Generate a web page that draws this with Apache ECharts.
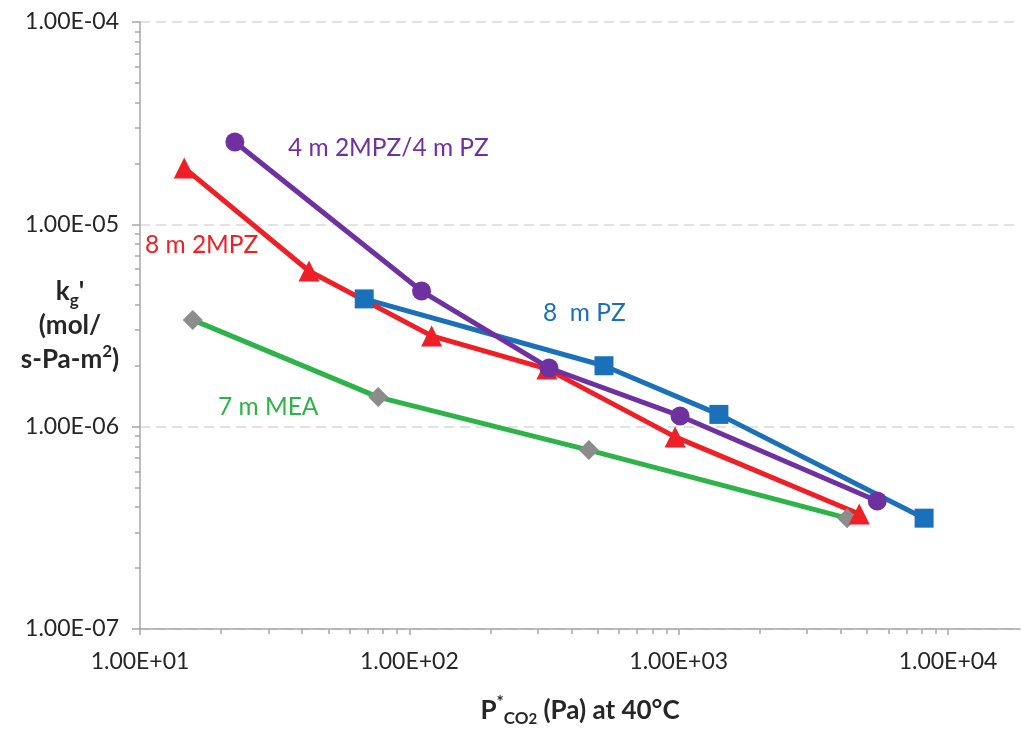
<!DOCTYPE html>
<html>
<head>
<meta charset="utf-8">
<script src="https://cdn.jsdelivr.net/npm/echarts@6/dist/echarts.min.js"></script>
<style>
  html, body { margin: 0; padding: 0; background: #fff; }
  #chart { width: 1023px; height: 732px; }
</style>
</head>
<body>
<div id="chart"></div>
<script>
// data (log-log)
const pz8X = [68, 528, 1410, 8150];
const pz8Y = [4.28e-6, 2.0e-6, 1.15e-6, 3.53e-7];

const mpz8X = [14.6, 42.4, 121, 324, 970, 4680];
const mpz8Y = [1.9e-5, 5.88e-6, 2.81e-6, 1.93e-6, 8.9e-7, 3.7e-7];

const blendX = [22.5, 111, 330, 1012, 5460];
const blendY = [2.55e-5, 4.68e-6, 1.95e-6, 1.13e-6, 4.29e-7];

const mea7X = [15.7, 76.6, 464, 4220];
const mea7Y = [3.37e-6, 1.4e-6, 7.66e-7, 3.53e-7];

const xMajor = [10, 100, 1000, 10000];
const yMajor = [1e-7, 1e-6, 1e-5, 1e-4];

// log minor ticks at 2..9 of each decade
const minorOf = (majors, max) => {
  const out = [];
  majors.forEach(m => { for (let k = 2; k <= 9; k++) if (m * k <= max) out.push(m * k); });
  return out;
};
const xMinor = minorOf(xMajor, 18500);
const yMinor = minorOf(yMajor.slice(0, 3), 1e-4);

const FONT = 'Lato, "Open Sans", sans-serif';
const TXT = '#262626';
const AXIS = '#a6a6a6';

const expFmt = v => {
  const e = Math.round(Math.log10(v));
  const s = e < 0 ? '-' : '+';
  return '1.00E' + s + String(Math.abs(e)).padStart(2, '0');
};

const pairs = (xs, ys) => xs.map((x, i) => [x, ys[i]]);

const chart = echarts.init(document.getElementById('chart'));

const baseX = { type: 'log', logBase: 10, min: 10, max: 18500, gridIndex: 0, position: 'bottom' };
const baseY = { type: 'log', logBase: 10, min: 1e-7, max: 1e-4, gridIndex: 0, position: 'left' };

const option = {
  animation: false,
  backgroundColor: '#fff',
  textStyle: { fontFamily: FONT },
  grid: { left: 140, top: 22, right: 3, bottom: 103, containLabel: false, outerBoundsMode: 'none' },
  xAxis: [
    {
      ...baseX,
      name: '{b|P}{sup|*}{sub|CO}{sub2|2}{b| (Pa) at 40°C}',
      nameLocation: 'middle',
      nameGap: 65,
      nameTextStyle: {
        rich: {
          b: { fontFamily: FONT, fontWeight: 'bold', fontSize: 26, color: TXT, lineHeight: 32 },
          sup: { fontFamily: FONT, fontWeight: 'bold', fontSize: 17, color: TXT, verticalAlign: 'top', lineHeight: 32 },
          sub: { fontFamily: FONT, fontWeight: 'bold', fontSize: 17, color: TXT, verticalAlign: 'bottom', padding: [12, 0, 0, 0] },
          sub2: { fontFamily: FONT, fontWeight: 'bold', fontSize: 15, color: TXT, verticalAlign: 'bottom', padding: [18, 0, 0, 0] }
        }
      },
      axisLine: { show: true, lineStyle: { color: AXIS, width: 1.5 } },
      axisTick: { show: true, inside: false, length: 6, customValues: xMajor, lineStyle: { color: AXIS, width: 1.5 } },
      axisLabel: { customValues: xMajor, formatter: expFmt, color: TXT, fontSize: 23, fontFamily: FONT, margin: 21 },
      splitLine: { show: false }
    },
    {
      ...baseX,
      axisLine: { show: false },
      axisLabel: { show: false },
      axisTick: { show: true, length: 5, customValues: xMinor, lineStyle: { color: AXIS, width: 1.5 } },
      splitLine: { show: false }
    }
  ],
  yAxis: [
    {
      ...baseY,
      axisLine: { show: true, lineStyle: { color: AXIS, width: 1.5 } },
      axisTick: { show: true, length: 8, customValues: yMajor, lineStyle: { color: AXIS, width: 1.5 } },
      axisLabel: { customValues: yMajor, formatter: expFmt, color: TXT, fontSize: 23, fontFamily: FONT, margin: 21 },
      splitLine: { show: true, lineStyle: { color: '#d9d9d9', width: 1.5, type: [10, 6] } }
    },
    {
      ...baseY,
      axisLine: { show: false },
      axisLabel: { show: false },
      axisTick: { show: true, length: 5, customValues: yMinor, lineStyle: { color: AXIS, width: 1.5 } },
      splitLine: { show: false }
    }
  ],
  series: [
    {
      name: '7 m MEA', type: 'line', data: pairs(mea7X, mea7Y),
      symbol: 'diamond', symbolSize: 20,
      lineStyle: { color: '#2db34a', width: 5 },
      itemStyle: { color: '#8c8c8c' }
    },
    {
      name: '8 m PZ', type: 'line', data: pairs(pz8X, pz8Y),
      symbol: 'rect', symbolSize: 19,
      lineStyle: { color: '#1b70ba', width: 5 },
      itemStyle: { color: '#1b70ba' }
    },
    {
      name: '8 m 2MPZ', type: 'line', data: pairs(mpz8X, mpz8Y),
      symbol: 'triangle', symbolSize: 21,
      lineStyle: { color: '#ee1f26', width: 5 },
      itemStyle: { color: '#ee1f26' }
    },
    {
      name: '4 m 2MPZ/4 m PZ', type: 'line', data: pairs(blendX, blendY),
      symbol: 'circle', symbolSize: 19,
      lineStyle: { color: '#7031a0', width: 5 },
      itemStyle: { color: '#7031a0' }
    }
  ],
  graphic: [
    {
      type: 'text', x: 70, y: 326,
      style: {
        x: 0, y: 0, align: 'center', verticalAlign: 'middle',
        text: '{b|k}{sub|g}{b|\'}\n{b|(mol/}\n{b|s-Pa-m}{sup|2}{b|)}',
        rich: {
          b: { fontFamily: FONT, fontWeight: 'bold', fontSize: 26, fill: TXT, lineHeight: 34 },
          sub: { fontFamily: FONT, fontWeight: 'bold', fontSize: 17, fill: TXT, verticalAlign: 'bottom', lineHeight: 34, padding: [8, 0, 0, 0] },
          sup: { fontFamily: FONT, fontWeight: 'bold', fontSize: 17, fill: TXT, verticalAlign: 'top', lineHeight: 34 }
        }
      }
    },
    { type: 'text', x: 288, y: 148, style: { text: '4 m 2MPZ/4 m PZ', fill: '#7031a0', font: '24.5px ' + FONT, verticalAlign: 'middle' } },
    { type: 'text', x: 145, y: 245, style: { text: '8 m 2MPZ', fill: '#ee1f26', font: '24.5px ' + FONT, verticalAlign: 'middle' } },
    { type: 'text', x: 543, y: 313, style: { text: '8  m PZ', fill: '#1b70ba', font: '24.5px ' + FONT, verticalAlign: 'middle' } },
    { type: 'text', x: 218, y: 407, style: { text: '7 m MEA', fill: '#2db34a', font: '24.5px ' + FONT, verticalAlign: 'middle' } }
  ]
};

chart.setOption(option);
</script>
</body>
</html>
